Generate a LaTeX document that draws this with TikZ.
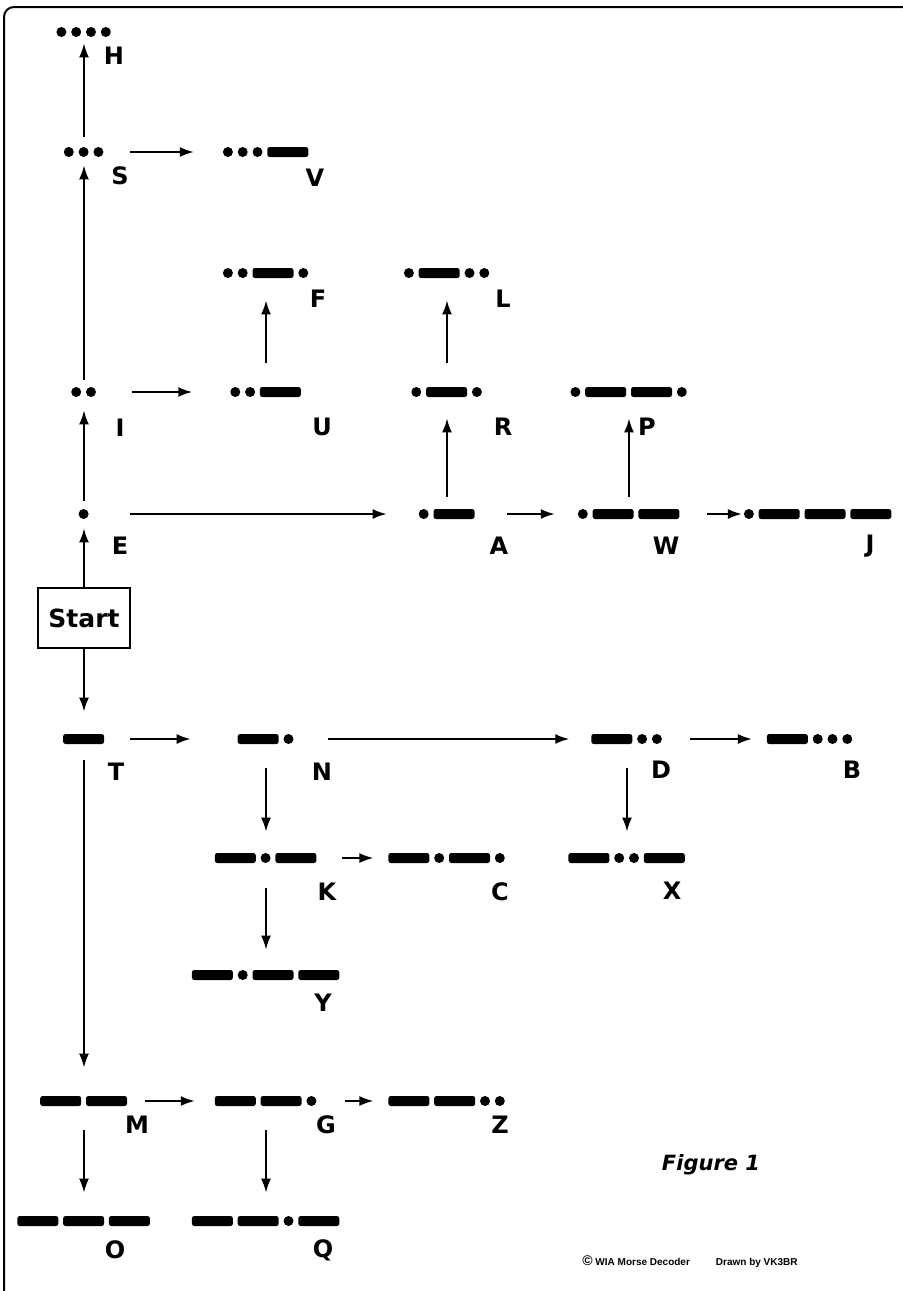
\documentclass[tikz,border=0pt]{standalone}
\usepackage{fontspec}
\usetikzlibrary{arrows.meta,positioning}
\newfontfamily\labfont{DejaVu Sans}
\newfontfamily\notefont{Liberation Sans}

% one mark of the code, sizes in pt
\def\dotw{5}
\def\dashw{20.5}
\def\dashh{5}
\def\gapw{2.4}

% \morsecode{name}{x,y}{list of * and -}
\newcommand{\morsecode}[3]{%
  \gdef\mlen{0}%
  \foreach \s in {#3}{%
    \if\s*\pgfmathsetmacro\mnew{\mlen+\dotw+\gapw}\else\pgfmathsetmacro\mnew{\mlen+\dashw+\gapw}\fi
    \global\let\mlen\mnew}%
  \pgfmathsetmacro\mw{\mlen-\gapw}%
  \node[code, minimum width=\mw pt] (#1) at (#2) {};
  \gdef\mpos{0}%
  \foreach \s in {#3}{%
    \if\s*%
      \pgfmathsetmacro\mx{\mpos+\dotw/2}%
      \fill ([xshift=\mx pt]#1.west) circle[radius=\dotw pt/2];
      \pgfmathsetmacro\mnew{\mpos+\dotw+\gapw}%
    \else
      \fill[rounded corners=1.2pt] ([xshift=\mpos pt, yshift=-\dashh pt/2]#1.west) rectangle ++(\dashw pt,\dashh pt);
      \pgfmathsetmacro\mnew{\mpos+\dashw+\gapw}%
    \fi
    \global\let\mpos\mnew}%
}

\begin{document}
\begin{tikzpicture}[x=0.5pt, y=-0.5pt,
  code/.style={inner sep=0pt, minimum height=\dashh pt},
  lbl/.style={inner sep=0pt, font=\labfont\bfseries\fontsize{12}{14}\selectfont},
  arr/.style={-{Latex[length=7pt,width=5pt]}, line width=1pt},
  startbox/.style={draw, line width=1.2pt, minimum width=46pt, minimum height=30pt,
    inner sep=0pt, font=\labfont\bfseries\fontsize{12.5}{14}\selectfont}]
  \useasboundingbox (0,0) rectangle (903,1291);
  \draw[line width=1pt, rounded corners=5pt] (4,1291) -- (4,7) -- (903,7);

  % the codes
  \morsecode{H}{84,32}{*,*,*,*}
  \morsecode{S}{84,152}{*,*,*}
  \morsecode{V}{266,152}{*,*,*,-}
  \morsecode{F}{266,273}{*,*,-,*}
  \morsecode{L}{447,273}{*,-,*,*}
  \morsecode{I}{84,392}{*,*}
  \morsecode{U}{266,392}{*,*,-}
  \morsecode{R}{447,392}{*,-,*}
  \morsecode{P}{629,392}{*,-,-,*}
  \morsecode{E}{84,514}{*}
  \morsecode{A}{447,514}{*,-}
  \morsecode{W}{629,514}{*,-,-}
  \morsecode{J}{818,514}{*,-,-,-}
  \morsecode{T}{84,739}{-}
  \morsecode{N}{266,739}{-,*}
  \morsecode{D}{627,739}{-,*,*}
  \morsecode{B}{810,739}{-,*,*,*}
  \morsecode{K}{266,858}{-,*,-}
  \morsecode{C}{447,858}{-,*,-,*}
  \morsecode{X}{627,858}{-,*,*,-}
  \morsecode{Y}{266,975}{-,*,-,-}
  \morsecode{M}{84,1101}{-,-}
  \morsecode{G}{266,1101}{-,-,*}
  \morsecode{Z}{447,1101}{-,-,*,*}
  \morsecode{O}{84,1221}{-,-,-}
  \morsecode{Q}{266,1221}{-,-,*,-}

  \node[startbox] (start) at (84,618) {Start};

  % letters
  \node[lbl] (lH) at (114,56) {H};
  \node[lbl] (lS) at (120,176) {S};
  \node[lbl] (lV) at (315,178) {V};
  \node[lbl] (lF) at (318,299) {F};
  \node[lbl] (lL) at (503,299) {L};
  \node[lbl] (lI) at (120,428) {I};
  \node[lbl] (lU) at (322,427) {U};
  \node[lbl] (lR) at (503,427) {R};
  \node[lbl] (lP) at (647,427) {P};
  \node[lbl] (lE) at (120,546) {E};
  \node[lbl] (lA) at (499,546) {A};
  \node[lbl] (lW) at (666,546) {W};
  \node[lbl] (lJ) at (870,546) {J};
  \node[lbl] (lT) at (116,772) {T};
  \node[lbl] (lN) at (322,772) {N};
  \node[lbl] (lD) at (661,770) {D};
  \node[lbl] (lB) at (852,770) {B};
  \node[lbl] (lK) at (327,892) {K};
  \node[lbl] (lC) at (500,892) {C};
  \node[lbl] (lX) at (672,891) {X};
  \node[lbl] (lY) at (323,1003) {Y};
  \node[lbl] (lM) at (137,1125) {M};
  \node[lbl] (lG) at (326,1125) {G};
  \node[lbl] (lZ) at (500,1125) {Z};
  \node[lbl] (lO) at (115,1250) {O};
  \node[lbl] (lQ) at (323,1250) {Q};

  \node[inner sep=0pt, font=\labfont\bfseries\itshape\fontsize{10.5}{12}\selectfont]
    (fig) at (711,1165) {Figure 1};
  \node[anchor=west, inner sep=0pt, font=\notefont\bfseries\fontsize{5}{6}\selectfont]
    (note) at (582,1262) {\fontsize{7}{7}\selectfont©\fontsize{5}{6}\selectfont\ WIA Morse Decoder\hspace{13pt}Drawn by VK3BR};

  % upward arrows
  \draw[arr, shorten <=5pt, shorten >=3pt] (S) -- (H);
  \draw[arr, shorten <=3.5pt, shorten >=4pt] (I) -- (S);
  \draw[arr, shorten <=4pt, shorten >=6.5pt] (E) -- (I);
  \draw[arr, shorten >=4.5pt] (start) -- (E);
  \draw[arr, shorten <=12pt, shorten >=11pt] (U) -- (F);
  \draw[arr, shorten <=12pt, shorten >=11pt] (R) -- (L);
  \draw[arr, shorten <=6pt, shorten >=10.5pt] (A) -- (R);
  \draw[arr, shorten <=6pt, shorten >=10.5pt] (W) -- (P);
  % downward arrows
  \draw[arr, shorten >=11pt] (start) -- (T);
  \draw[arr, shorten <=8pt, shorten >=14pt] (T) -- (M);
  \draw[arr, shorten <=12pt, shorten >=10.5pt] (N) -- (K);
  \draw[arr, shorten <=12.5pt, shorten >=10pt] (K) -- (Y);
  \draw[arr, shorten <=12pt, shorten >=10.5pt] (D) -- (X);
  \draw[arr, shorten <=12pt, shorten >=11.5pt] (M) -- (O);
  \draw[arr, shorten <=12pt, shorten >=11.5pt] (G) -- (Q);
  % arrows to the right
  \draw[arr, shorten <=13pt, shorten >=14.5pt] (S) -- (V);
  \draw[arr, shorten <=17.5pt, shorten >=19pt] (I) -- (U);
  \draw[arr, shorten <=20.5pt, shorten >=16pt] (E) -- (A);
  \draw[arr, shorten <=16pt, shorten >=11.5pt] (A) -- (W);
  \draw[arr, shorten <=13.5pt, shorten >=1pt] (W) -- (J);
  \draw[arr, shorten <=12.5pt, shorten >=23.5pt] (T) -- (N);
  \draw[arr, shorten <=17pt, shorten >=11pt] (N) -- (D);
  \draw[arr, shorten <=13.5pt, shorten >=7.5pt] (D) -- (B);
  \draw[arr, shorten <=12.5pt, shorten >=7.5pt] (K) -- (C);
  \draw[arr, shorten <=8.5pt, shorten >=10pt] (M) -- (G);
  \draw[arr, shorten <=14pt, shorten >=7.5pt] (G) -- (Z);
\end{tikzpicture}
\end{document}
